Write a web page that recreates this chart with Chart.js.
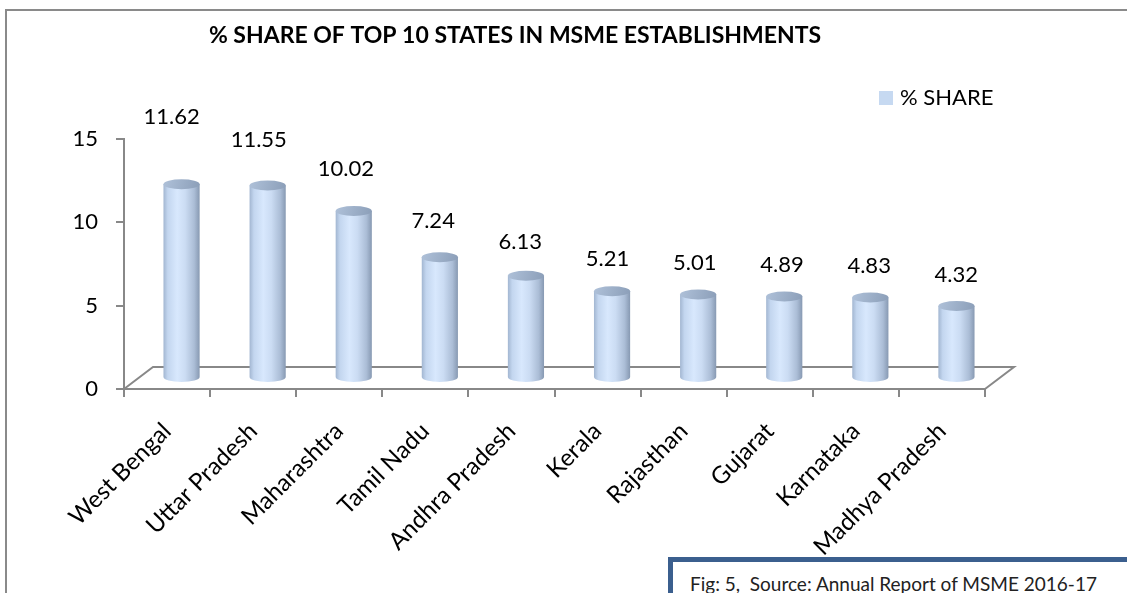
<!DOCTYPE html>
<html>
<head>
<meta charset="utf-8">
<script src="https://cdn.jsdelivr.net/npm/chart.js@4.4.0/dist/chart.umd.min.js"></script>
<style>
    html, body { margin: 0; padding: 0; background: #fff; overflow: hidden; }
    #wrap { position: relative; width: 1127px; height: 593px; }
    #frame {
        position: absolute; left: 5px; top: 9px; width: 1200px; height: 700px;
        border-left: 2px solid #8a8a8a; border-top: 2px solid #8a8a8a;
    }
    #note {
        position: absolute; left: 668px; top: 557px; width: 500px; height: 60px;
        background: #fff; border-left: 5px solid #3b5f8e; border-top: 5px solid #3b5f8e;
        font-family: Lato, sans-serif; font-size: 19px; line-height: 23px; color: #222;
        padding: 10px 0 0 17px; box-sizing: border-box; white-space: nowrap;
    }
    canvas { position: absolute; left: 0; top: 0; }
</style>
</head>
<body>
<div id="wrap">
    <div id="frame"></div>
    <canvas id="msmeChart" width="1127" height="593"></canvas>
    <div id="note">Fig: 5,&nbsp; Source: Annual Report of MSME 2016-17</div>
</div>
<script>
// ---------------------------------------------------------------------------
// DATA
// ---------------------------------------------------------------------------
const states = ['West Bengal', 'Uttar Pradesh', 'Maharashtra', 'Tamil Nadu', 'Andhra Pradesh',
                'Kerala', 'Rajasthan', 'Gujarat', 'Karnataka', 'Madhya Pradesh'];
const share = [11.62, 11.55, 10.02, 7.24, 6.13, 5.21, 5.01, 4.89, 4.83, 4.32];
const yTicks = [0, 5, 10, 15];

const chartTitle = '% SHARE OF TOP 10 STATES IN MSME ESTABLISHMENTS';
const seriesName = '% SHARE';

// ---------------------------------------------------------------------------
// STYLE
// ---------------------------------------------------------------------------
const FONT = 'Lato, "Open Sans", sans-serif';
const AXIS_GRAY = '#888888';
const DEPTH = { dx: 29, dy: -22 };      // 3D floor depth
const SWATCH = '#c6d9f1';

// Excel-like 3D floor, cylinders, value labels, title and legend
const cylinderPlugin = {
    id: 'cylinders',
    beforeDatasetsDraw(chart) {
        const { ctx, chartArea } = chart;
        const y0 = chart.scales.y.getPixelForValue(0);
        ctx.save();
        ctx.strokeStyle = AXIS_GRAY;
        ctx.lineWidth = 2;
        ctx.beginPath();
        ctx.moveTo(chartArea.left, y0);
        ctx.lineTo(chartArea.left + DEPTH.dx, y0 + DEPTH.dy);
        ctx.lineTo(chartArea.right + DEPTH.dx, y0 + DEPTH.dy);
        ctx.lineTo(chartArea.right, y0);
        ctx.stroke();
        ctx.restore();
    },
    afterDatasetsDraw(chart) {
        const { ctx } = chart;
        const meta = chart.getDatasetMeta(0);
        ctx.save();
        meta.data.forEach((bar, i) => {
            const rx = bar.width / 2;
            const ry = 5;
            const cx = bar.x + DEPTH.dx / 2;
            const topY = bar.y + DEPTH.dy / 2;
            const baseY = bar.base + DEPTH.dy / 2;

            // body
            const g = ctx.createLinearGradient(cx - rx, 0, cx + rx, 0);
            g.addColorStop(0, '#a2b6d1');
            g.addColorStop(0.12, '#c3d6ef');
            g.addColorStop(0.38, '#d8e8fd');
            g.addColorStop(0.6, '#cbdcf3');
            g.addColorStop(0.85, '#abbdd6');
            g.addColorStop(1, '#8799b2');
            ctx.beginPath();
            ctx.moveTo(cx - rx, topY);
            ctx.lineTo(cx - rx, baseY);
            ctx.ellipse(cx, baseY, rx, ry, 0, Math.PI, 0, true);
            ctx.lineTo(cx + rx, topY);
            ctx.closePath();
            ctx.fillStyle = g;
            ctx.fill();

            // top cap
            const tg = ctx.createLinearGradient(cx - rx, topY - ry, cx + rx, topY + ry);
            tg.addColorStop(0, '#afc1d9');
            tg.addColorStop(1, '#8b9eb8');
            ctx.beginPath();
            ctx.ellipse(cx, topY, rx, ry, 0, 0, Math.PI * 2);
            ctx.fillStyle = tg;
            ctx.fill();

            // value label
            const v = share[i];
            const lift = 22 + 2 * v + (i === 0 ? 22 : 0);
            ctx.fillStyle = '#000';
            ctx.font = '22px ' + FONT;
            ctx.textAlign = 'center';
            ctx.textBaseline = 'middle';
            ctx.fillText(v.toFixed(2), cx - 10 + 1.1 * i, topY - lift);
        });

        // title
        ctx.font = 'bold 23px ' + FONT;
        ctx.textAlign = 'center';
        ctx.textBaseline = 'middle';
        ctx.fillText(chartTitle, 515, 36);

        // legend
        ctx.fillStyle = SWATCH;
        ctx.fillRect(879, 91, 14, 14);
        ctx.fillStyle = '#000';
        ctx.font = '22px ' + FONT;
        ctx.textAlign = 'left';
        ctx.fillText(seriesName, 900, 98);
        ctx.restore();
    }
};

const ctx = document.getElementById('msmeChart').getContext('2d');
const chart = new Chart(ctx, {
    type: 'bar',
    data: {
        labels: states,
        datasets: [{
            label: seriesName,
            data: share,
            backgroundColor: 'rgba(0,0,0,0)',
            barPercentage: 0.42,
            categoryPercentage: 1
        }]
    },
    options: {
        responsive: false,
        animation: false,
        layout: { padding: { top: 139, right: 142, left: 0, bottom: 0 } },
        plugins: {
            legend: { display: false },
            title: { display: false },
            tooltip: { enabled: false }
        },
        scales: {
            y: {
                min: 0,
                max: 15,
                afterBuildTicks: (scale) => { scale.ticks = yTicks.map(v => ({ value: v })); },
                afterFit: (scale) => { scale.width = 124; },
                border: { display: true, color: AXIS_GRAY, width: 2 },
                grid: { drawOnChartArea: false, drawTicks: true, tickLength: 8, color: AXIS_GRAY, lineWidth: 2 },
                ticks: { color: '#000', font: { family: FONT, size: 22 }, padding: 18 }
            },
            x: {
                afterFit: (scale) => { scale.height = 204; },
                border: { display: true, color: AXIS_GRAY, width: 2 },
                grid: { drawOnChartArea: false, drawTicks: true, tickLength: 8, color: AXIS_GRAY, lineWidth: 2, offset: true },
                ticks: {
                    color: '#000',
                    font: { family: FONT, size: 24 },
                    autoSkip: false,
                    minRotation: 45,
                    maxRotation: 45,
                    padding: 20
                }
            }
        }
    },
    plugins: [cylinderPlugin]
});
</script>
</body>
</html>
